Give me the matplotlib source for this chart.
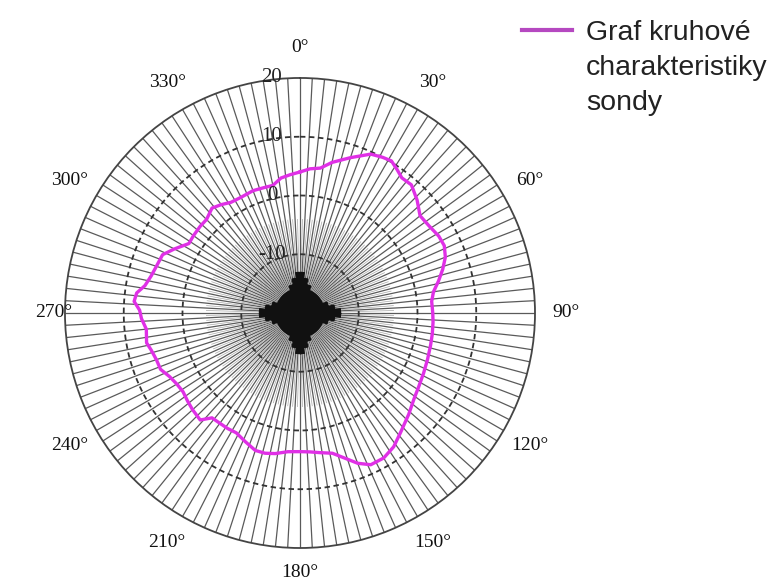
import numpy as np
import matplotlib.pyplot as plt
from matplotlib.lines import Line2D
import matplotlib.transforms as mtransforms

# angle (deg, clockwise from top) and level (dB)
angle_deg = [0, 4, 8, 12, 18, 24, 28, 31, 34, 37, 41, 46, 51, 56, 61, 65, 69, 73, 77, 81,
             85, 90, 94, 99, 104, 110, 116, 122, 127, 133, 140, 145, 150, 155, 159, 163,
             167, 172, 176, 180, 185, 190, 194, 198, 203, 208, 212, 216, 220, 223, 228,
             232, 236, 240, 244, 248, 252, 256, 259, 264, 268, 271, 274, 277, 280, 284,
             288, 293, 297, 302, 306, 311, 315, 320, 324, 328, 333, 339, 344, 348, 352, 356]
level_db = [4.0, 4.6, 4.9, 6.2, 7.8, 9.6, 10.0, 10.2, 9.5, 8.8, 8.9, 7.7, 6.3, 6.5, 7.0, 7.1,
            6.5, 5.4, 4.2, 3.0, 2.5, 2.6, 2.7, 2.8, 2.9, 3.1, 3.4, 3.8, 4.3, 5.3, 6.6, 7.8,
            8.5, 8.5, 7.4, 5.8, 4.5, 4.0, 3.7, 3.6, 3.7, 4.3, 4.6, 4.6, 3.8, 3.1, 3.2, 3.2,
            3.3, 4.9, 4.6, 4.3, 4.0, 4.2, 4.7, 5.6, 5.7, 6.1, 6.6, 6.3, 7.0, 7.3, 8.3, 8.0,
            6.8, 6.1, 5.7, 5.4, 4.0, 2.3, 2.4, 2.5, 2.5, 3.3, 2.8, 2.2, 2.1, 2.3, 2.2, 2.2,
            3.2, 3.6]

r_ticks = [20, 10, 0, -10]
r_labels = ['20', '10', '0', '-10']
theta_ticks = list(range(0, 360, 30))
legend_label = 'Graf kruhové\ncharakteristiky\nsondy'

fig = plt.figure(figsize=(7.8, 5.81), dpi=100)
ax = fig.add_axes([0.0833, 0.0568, 0.6026, 0.809], projection='polar')
ax.set_theta_zero_location('N')
ax.set_theta_direction(-1)
ax.set_ylim(-20, 20)
ax.grid(False)
ax.set_xticks([])
ax.set_yticks([])
ax.spines['polar'].set_color('#444444')
ax.spines['polar'].set_linewidth(1.3)

# spokes: every 3 deg full length, finer ones near the centre
spokes = np.deg2rad(np.arange(0, 360, 3))
ax.vlines(spokes, -20, 20, color='#5a5a5a', lw=0.9, zorder=1)
fine = np.deg2rad(np.arange(1.5, 360, 3))
ax.vlines(fine, -20, -4, color='#a8a8a8', lw=0.5, zorder=1)
core = np.deg2rad(np.arange(0, 360, 1))
ax.vlines(core, -20, -15.8, color='#111111', lw=1.0, zorder=1)
# darker cross-shaped blob at the centre
for a in (0, 90, 180, 270):
    for half, end in ((22, -15.0), (13, -14.0), (6, -13.0)):
        arm = np.deg2rad(np.arange(a - half, a + half + 1, 1))
        ax.vlines(arm, -20, end, color='#111111', lw=1.0, zorder=1)

# rings
th = np.linspace(0, 2 * np.pi, 721)
for r in r_ticks[1:]:
    ax.plot(th, np.full_like(th, r), color='#333333', lw=1.3,
            linestyle=(0, (3, 2)), zorder=2)

# curve
t = np.deg2rad(angle_deg + [angle_deg[0]])
v = level_db + [level_db[0]]
ax.plot(t, v, color='#e030e6', lw=2.4, zorder=4)

# angle labels
label_r = {180: 24.2, 270: 22.0}
for d in theta_ticks:
    ax.text(np.deg2rad(d), label_r.get(d, 25.2), '%d°' % d, ha='center', va='center',
            family='Liberation Serif', fontsize=14, color='#111111')

# radial labels, shifted left of the 0° spoke
off = mtransforms.offset_copy(ax.transData, fig=fig, x=-28, y=0, units='dots')
for r, lab in zip(r_ticks, r_labels):
    ax.text(0, r, lab, transform=off, ha='center', va='center',
            family='Liberation Serif', fontsize=15, color='#222222', zorder=5)

# legend
fig.add_artist(Line2D([522 / 780, 572 / 780], [1 - 30 / 581, 1 - 30 / 581],
                      color='#b548c0', lw=3))
fig.text(586 / 780, 1 - 68 / 581, legend_label, ha='left', va='center',
         family='Liberation Sans', fontsize=20.5, linespacing=1.44, color='#222222')

fig.savefig('out.png', dpi=100)
